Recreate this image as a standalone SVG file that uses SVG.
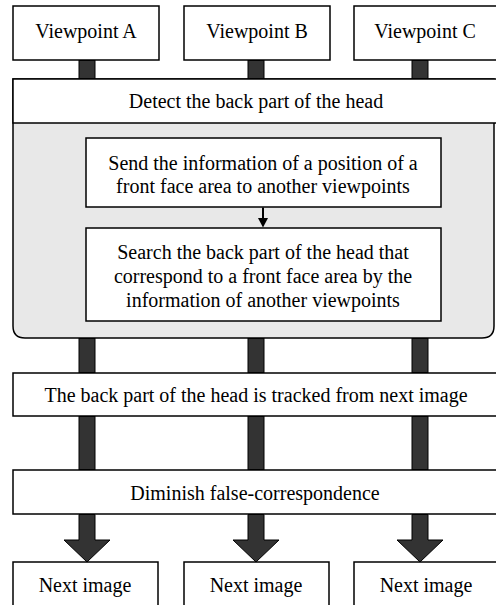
<svg xmlns="http://www.w3.org/2000/svg" width="496" height="605" viewBox="0 0 496 605">
<defs>
<style>
.box{fill:#fff;stroke:#000;stroke-width:1.5}
.bar{fill:#333;stroke:#000;stroke-width:1}
text{font-family:'Liberation Serif','Times New Roman','DejaVu Serif',serif;font-size:20px;fill:#000;text-anchor:middle}
</style>
</defs>
<rect width="496" height="605" fill="#fff"/>
<g id="viewpointA"><rect class="box" x="13" y="6" width="146" height="54"/><text x="86" y="38">Viewpoint A</text></g>
<g id="viewpointB"><rect class="box" x="184" y="6" width="146" height="54"/><text x="257" y="38">Viewpoint B</text></g>
<g id="viewpointC"><rect class="box" x="354" y="6" width="146" height="54"/><text x="425" y="38">Viewpoint C</text></g>
<g id="detect">
<path d="M13,79 H494 V326 Q494,338 482,338 H25 Q13,338 13,326 Z" fill="#e8e8e8" stroke="#000" stroke-width="1.5"/>
<rect x="13" y="79" width="490" height="44" fill="#fff" stroke="#000" stroke-width="1.5"/>
<text x="256" y="108">Detect the back part of the head</text>
</g>
<g id="send"><rect class="box" x="86" y="138" width="355" height="69"/>
<text x="263" y="170">Send the information of a position of a</text>
<text x="263" y="193">front face area to another viewpoints</text></g>
<g id="search"><rect class="box" x="86" y="228" width="355" height="93"/>
<text x="263" y="259">Search the back part of the head that</text>
<text x="263" y="283">correspond to a front face area by the</text>
<text x="263" y="307">information of another viewpoints</text></g>
<g id="tracked"><rect class="box" x="13" y="373" width="490" height="43"/><text x="256" y="402">The back part of the head is tracked from next image</text></g>
<g id="diminish"><rect class="box" x="13" y="470" width="490" height="44"/><text x="255" y="500">Diminish false-correspondence</text></g>
<g id="nextA"><rect class="box" x="13" y="562" width="145" height="50"/><text x="85" y="592">Next image</text></g>
<g id="nextB"><rect class="box" x="184" y="562" width="145" height="50"/><text x="256" y="592">Next image</text></g>
<g id="nextC"><rect class="box" x="354" y="562" width="146" height="50"/><text x="426" y="592">Next image</text></g>
<g id="connectors">
<rect class="bar" x="79" y="60.5" width="16" height="18"/>
<rect class="bar" x="248" y="60.5" width="16" height="18"/>
<rect class="bar" x="412" y="60.5" width="16" height="18"/>
<rect class="bar" x="79" y="338.5" width="16" height="34"/>
<rect class="bar" x="248" y="338.5" width="16" height="34"/>
<rect class="bar" x="412" y="338.5" width="16" height="34"/>
<rect class="bar" x="79" y="416.5" width="16" height="53"/>
<rect class="bar" x="248" y="416.5" width="16" height="53"/>
<rect class="bar" x="412" y="416.5" width="16" height="53"/>
<path class="bar" d="M79,514.5 V540 H64 L87,562 L110,540 H95 V514.5 Z"/>
<path class="bar" d="M248,514.5 V540 H233 L256,562 L279,540 H264 V514.5 Z"/>
<path class="bar" d="M412,514.5 V540 H397 L420,562 L443,540 H428 V514.5 Z"/>
<line x1="263" y1="207.5" x2="263" y2="220" stroke="#000" stroke-width="2"/>
<path d="M258,218 L268,218 L263,227.5 Z" fill="#000"/>
</g>
</svg>
